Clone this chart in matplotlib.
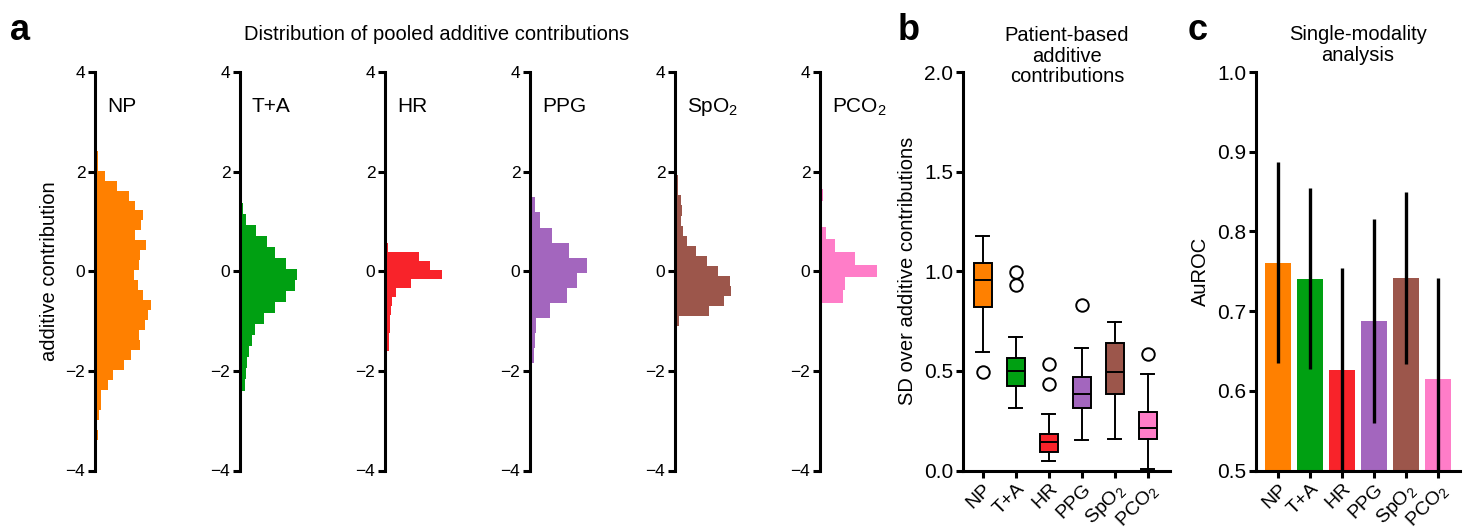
import numpy as np
import matplotlib
matplotlib.use("Agg")
import matplotlib.pyplot as plt

plt.rcParams['font.family'] = ['Liberation Sans', 'DejaVu Sans']
plt.rcParams['mathtext.fontset'] = 'custom'
plt.rcParams['mathtext.rm'] = 'Liberation Sans'
plt.rcParams['mathtext.it'] = 'Liberation Sans:italic'
plt.rcParams['mathtext.bf'] = 'Liberation Sans:bold'

# ---------------- data ----------------
modalities = ["NP", "T+A", "HR", "PPG", "SpO$_\\mathregular{2}$", "PCO$_\\mathregular{2}$"]
colors = ["#ff8000", "#00a012", "#f8232a", "#a366be", "#9c564b", "#ff7dc8"]

# panel a: pooled additive contribution histograms (bottom-to-top bins)
hist_np_start, hist_np_width = -3.38, 0.2
hist_np_counts = [2.5, 1.8, 3.7, 5.7, 6.3, 12.7, 17.7, 28.7, 35.7, 44.7, 43.7, 49.7,
                  52.7, 55.7, 47.7, 42.7, 38.7, 43.7, 44.7, 50.7, 39.7, 45.7, 47.7,
                  39.7, 33.7, 21.7, 9.7, 2.5, 2.5]
hist_ta_start, hist_ta_width = -3.06, 0.222
hist_ta_counts = [1.8, 1.8, 1.8, 4.7, 5.7, 6.7, 8.7, 11.7, 14.7, 23.7, 34.7, 45.7,
                  54.7, 56.7, 45.7, 34.7, 26.7, 15.7, 6.3, 2.5]
hist_hr_start, hist_hr_width = -1.61, 0.181
hist_hr_counts = [4.3, 4.3, 4.7, 5.3, 5.7, 6.7, 10.7, 25.7, 56.7, 44.7, 33.7, 2.5]
hist_ppg_start, hist_ppg_width = -1.84, 0.302
hist_ppg_counts = [3.5, 5.0, 6.3, 20.3, 37.3, 47.3, 57.3, 39.3, 22.3, 10.0, 5.3]
hist_spo2_start, hist_spo2_width = -1.10, 0.2017
hist_spo2_counts = [4.0, 34.0, 49.0, 56.0, 55.0, 43.0, 32.0, 21.0, 12.0, 8.0, 6.0,
                    7.0, 6.0, 2.7, 2.7]
hist_pco2_start, hist_pco2_width = -0.63, 0.254
hist_pco2_counts = [22.7, 24.7, 56.7, 34.7, 14.7, 5.7, 0.0, 0.0, 3.2]

hist_starts = [hist_np_start, hist_ta_start, hist_hr_start, hist_ppg_start,
               hist_spo2_start, hist_pco2_start]
hist_widths = [hist_np_width, hist_ta_width, hist_hr_width, hist_ppg_width,
               hist_spo2_width, hist_pco2_width]
hist_counts = [hist_np_counts, hist_ta_counts, hist_hr_counts, hist_ppg_counts,
               hist_spo2_counts, hist_pco2_counts]

# panel b: patient-based SD boxplots
box_whislo = [0.593, 0.314, 0.048, 0.153, 0.158, 0.008]
box_q1 = [0.823, 0.424, 0.093, 0.314, 0.385, 0.160]
box_med = [0.954, 0.497, 0.144, 0.385, 0.494, 0.211]
box_q3 = [1.041, 0.565, 0.182, 0.470, 0.638, 0.294]
box_whishi = [1.177, 0.669, 0.285, 0.616, 0.744, 0.482]
box_fliers = [[0.496], [0.998, 0.930], [0.533, 0.433], [0.832], [], [0.584]]

# panel c: single-modality AuROC
auroc = [0.760, 0.740, 0.626, 0.688, 0.741, 0.615]
auroc_err_low = [0.125, 0.113, 0.128, 0.129, 0.107, 0.127]
auroc_err_high = [0.127, 0.115, 0.128, 0.127, 0.109, 0.127]

# ---------------- figure ----------------
W, H = 1473, 531
fig = plt.figure(figsize=(W / 100, H / 100), dpi=100)

def px_axes(left, top, width, height):
    return fig.add_axes([left / W, 1 - (top + height) / H, width / W, height / H])

SPINE_LW = 2.2
LABEL_FS = 14.5

def style_axes(ax, tick_fs):
    for s in ['top', 'right']:
        ax.spines[s].set_visible(False)
    for s in ['left', 'bottom']:
        ax.spines[s].set_linewidth(SPINE_LW)
    ax.tick_params(direction='out', length=5, width=SPINE_LW, labelsize=tick_fs, pad=2)

# panel a
ax_top, ax_h = 72, 398.5
spine_x = [95, 240, 385, 530, 675, 820]
for i in range(6):
    ax = px_axes(spine_x[i], ax_top, 100, ax_h)
    style_axes(ax, 12.5)
    ax.spines['bottom'].set_visible(False)
    ax.set_xticks([])
    n = len(hist_counts[i])
    edges = hist_starts[i] + hist_widths[i] * np.arange(n + 1)
    ax.stairs(hist_counts[i], edges, orientation='horizontal', fill=True,
              color=colors[i], linewidth=0)
    ax.set_xlim(0, 100)
    ax.set_ylim(-4, 4)
    ax.set_yticks([-4, -2, 0, 2, 4])
    ax.set_yticklabels(['\u22124', '\u22122', '0', '2', '4'])
    ax.text(12, 3.3, modalities[i], fontsize=15, va='center', ha='left')
    if i == 0:
        ax.set_ylabel('additive contribution', fontsize=LABEL_FS, labelpad=5)

fig.text(437 / W, 1 - 35 / H, 'Distribution of pooled additive contributions',
         ha='center', va='center', fontsize=LABEL_FS)

# panel b
axb = px_axes(963, 72, 207, 398.5)
style_axes(axb, 15)
stats = []
for i in range(6):
    stats.append(dict(med=box_med[i], q1=box_q1[i], q3=box_q3[i],
                      whislo=box_whislo[i], whishi=box_whishi[i],
                      fliers=box_fliers[i], label=modalities[i]))
positions = np.arange(1, 7)
bp = axb.bxp(stats, positions=positions, widths=0.55, capwidths=0.4,
             patch_artist=True,
             boxprops=dict(linewidth=1.4, edgecolor='black'),
             medianprops=dict(color='black', linewidth=1.4),
             whiskerprops=dict(color='black', linewidth=1.4),
             capprops=dict(color='black', linewidth=1.4),
             flierprops=dict(marker='o', markerfacecolor='none',
                             markeredgecolor='black', markersize=9,
                             markeredgewidth=1.4))
for patch, c in zip(bp['boxes'], colors):
    patch.set_facecolor(c)
axb.set_xlim(0.4, 6.67)
axb.set_ylim(0, 2.0)
axb.set_yticks([0.0, 0.5, 1.0, 1.5, 2.0])
axb.set_yticklabels(['0.0', '0.5', '1.0', '1.5', '2.0'])
axb.set_xticks(positions)
axb.set_xticklabels(modalities, rotation=45, ha='right', rotation_mode='anchor',
                    fontsize=14)
axb.set_ylabel('SD over additive contributions', fontsize=LABEL_FS, labelpad=5)
fig.text(1067 / W, 1 - 56 / H, 'Patient-based\nadditive\ncontributions',
         ha='center', va='center', fontsize=LABEL_FS, linespacing=1.1)

# panel c
axc = px_axes(1256, 72, 204, 398.5)
style_axes(axc, 15)
xc = np.arange(6)
axc.bar(xc, auroc, width=0.8, color=colors)
axc.errorbar(xc, auroc, yerr=[auroc_err_low, auroc_err_high], fmt='none',
             ecolor='black', elinewidth=2.4, capsize=0)
axc.set_xlim(-0.69, 5.69)
axc.set_ylim(0.5, 1.0)
axc.set_yticks([0.5, 0.6, 0.7, 0.8, 0.9, 1.0])
axc.set_yticklabels(['0.5', '0.6', '0.7', '0.8', '0.9', '1.0'])
axc.set_xticks(xc)
axc.set_xticklabels(modalities, rotation=45, ha='right', rotation_mode='anchor',
                    fontsize=14)
axc.set_ylabel('AuROC', fontsize=LABEL_FS, labelpad=5)
fig.text(1358 / W, 1 - 45 / H, 'Single-modality\nanalysis',
         ha='center', va='center', fontsize=LABEL_FS, linespacing=1.1)

# panel letters
for letter, x in [('a', 10), ('b', 898), ('c', 1188)]:
    fig.text(x / W, 1 - 31 / H, letter, fontsize=26, fontweight='bold',
             ha='left', va='center')

fig.savefig('out.png', dpi=100)
